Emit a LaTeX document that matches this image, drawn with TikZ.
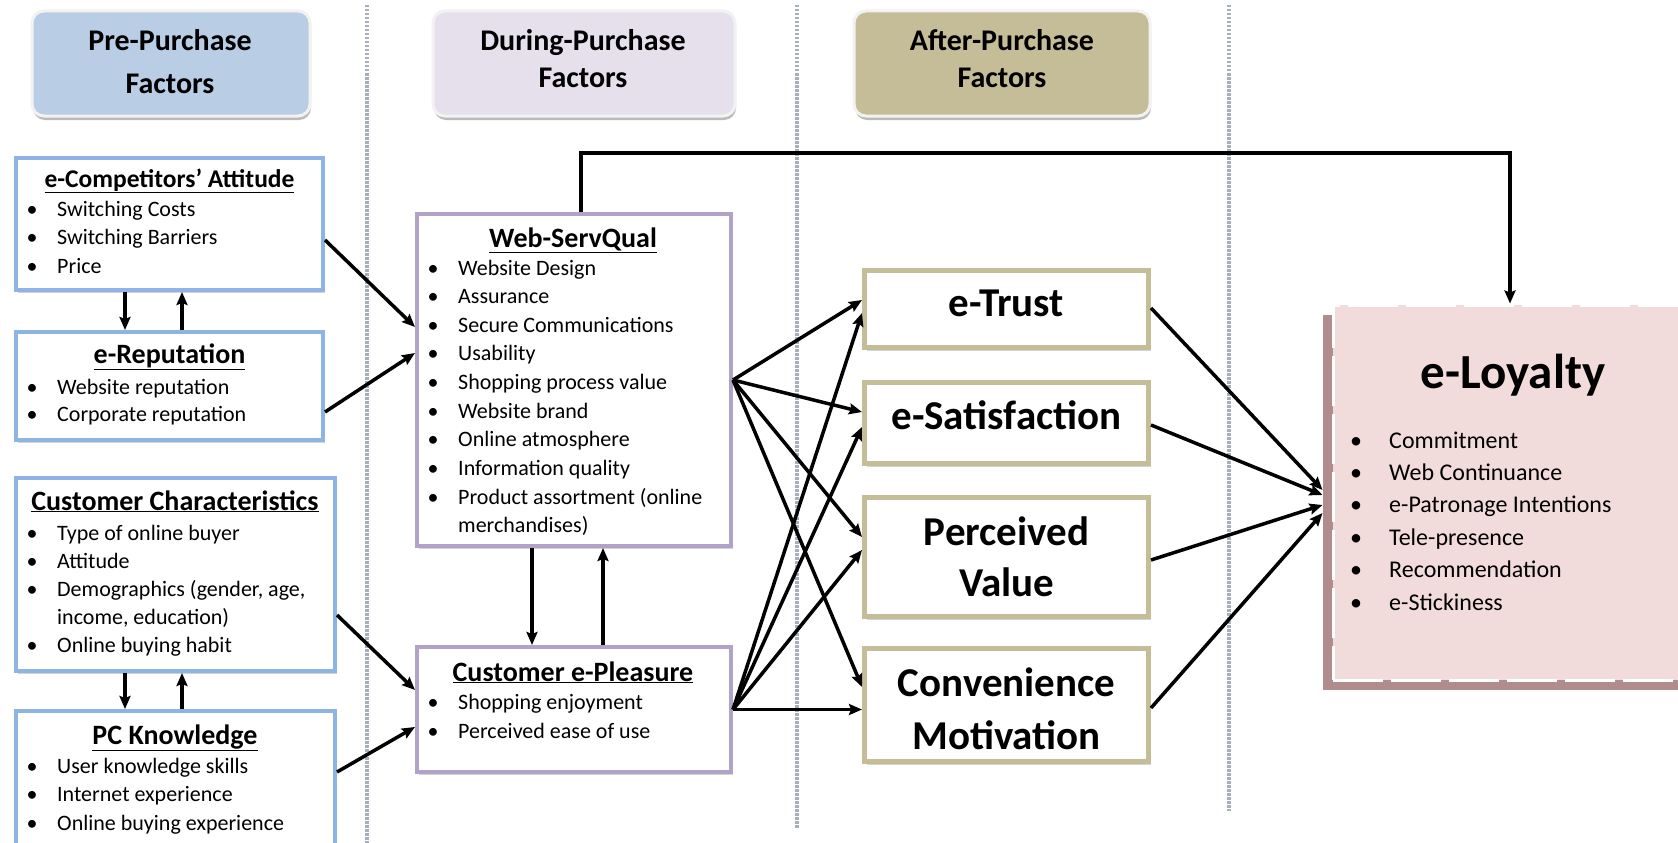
\documentclass[tikz,border=0pt]{standalone}
\usepackage{fontspec}
\setmainfont{Carlito}
\usetikzlibrary{shadows,arrows.meta}
\definecolor{preC}{HTML}{B9CDE5}
\definecolor{durC}{HTML}{E5E0EC}
\definecolor{aftC}{HTML}{C4BD97}
\definecolor{blueB}{HTML}{8EB4E3}
\definecolor{purB}{HTML}{B3A2C7}
\definecolor{tanB}{HTML}{C4BD97}
\definecolor{loyF}{HTML}{F2DCDB}
\definecolor{loyS}{HTML}{B08C8C}
\definecolor{dotC}{HTML}{A7AFBD}
\newcommand{\itemlist}[7]{%
  \foreach \isb/\itm [count=\k from 0] in {#6}{%
    \ifnum\isb=1\relax
      \node[anchor=base, inner sep=0pt, font=\fontsize{#7}{#7}\selectfont] (#1b\k) at (#2,{#4+\k*#5}) {\textbullet};%
    \fi
    \node[anchor=base west, inner sep=0pt, font=\fontsize{#7}{#7}\selectfont] (#1t\k) at (#3,{#4+\k*#5}) {\itm};%
  }}
\tikzset{
  hdr/.style={rounded corners=12pt, draw=black!5, line width=3pt, inner sep=0pt,
    drop shadow={shadow xshift=1pt, shadow yshift=-4pt, fill=black!45, opacity=0.6}},
  hdrtxt/.style={font=\bfseries\fontsize{30}{40}\selectfont, align=center, inner sep=0pt},
  lbox/.style={draw=blueB, line width=4pt, fill=white, inner sep=0pt,
    drop shadow={shadow xshift=2pt, shadow yshift=-3pt, fill=black!50, opacity=0.35}},
  pbox/.style={draw=purB, line width=4pt, fill=white, inner sep=0pt,
    drop shadow={shadow xshift=2pt, shadow yshift=-3pt, fill=black!50, opacity=0.35}},
  abox/.style={draw=tanB, line width=5pt, fill=white, inner sep=0pt, align=center,
    font=\bfseries\fontsize{41}{51.5}\selectfont,
    drop shadow={shadow xshift=2pt, shadow yshift=-3pt, fill=black!50, opacity=0.35}},
  ttl/.style={anchor=base, inner sep=0pt, font=\bfseries\fontsize{28}{30}\selectfont},
  conn/.style={line width=3.5pt, -{Stealth[length=13pt,width=11pt,inset=2pt]}},
  dotl/.style={dotC, line width=3.5pt, dash pattern=on 2.5pt off 1.5pt}
}
\begin{document}
\begin{tikzpicture}[x=1pt,y=-1pt]
\useasboundingbox (0,0) rectangle (1678,843);
% dotted separators
\draw[dotl] (367,5) -- (367,843);
\draw[dotl] (797,5) -- (797,829);
\draw[dotl] (1229,5) -- (1229,811);
% headers
\node[hdr, fill=preC, minimum width=278pt, minimum height=105pt] (pre) at (171,63.5) {};
\node[hdr, fill=durC, minimum width=302pt, minimum height=105pt] (dur) at (584,63.5) {};
\node[hdr, fill=aftC, minimum width=296pt, minimum height=105pt] (aft) at (1002,63.5) {};
\node[hdrtxt, font=\bfseries\fontsize{30}{43}\selectfont] (pretxt) at (170,62) {Pre-Purchase\\Factors};
\node[hdrtxt, font=\bfseries\fontsize{30}{37}\selectfont] (durtxt) at (583,59) {During-Purchase\\Factors};
\node[hdrtxt, font=\bfseries\fontsize{30}{37}\selectfont] (afttxt) at (1002,59) {After-Purchase\\Factors};
% left boxes
\node[lbox, minimum width=307pt, minimum height=132pt] (ecomp) at (169.5,224) {};
\node[lbox, minimum width=307pt, minimum height=108pt] (erep) at (169.5,386) {};
\node[lbox, minimum width=319pt, minimum height=193pt] (cc) at (175.5,574.5) {};
\node[lbox, minimum width=319pt, minimum height=159pt] (pck) at (175.5,790.5) {};
\node[ttl, font=\bfseries\fontsize{25.5}{30}\selectfont] (ecompT) at (169.5,187) {\underline{e-Competitors’ Attitude}};
\itemlist{ec}{32}{57}{216}{28.5}{1/Switching Costs, 1/Switching Barriers, 1/Price}{22}
\node[ttl] (erepT) at (169.5,363) {\underline{e-Reputation}};
\itemlist{er}{32}{57}{394}{27.5}{1/Website reputation, 1/Corporate reputation}{22}
\node[ttl] (ccT) at (175,510) {\underline{Customer Characteristics}};
\itemlist{cc}{32}{57}{540}{28}{1/Type of online buyer, 1/Attitude, 1/{Demographics (gender, age,}, 0/{income, education)}, 1/Online buying habit}{22}
\node[ttl] (pckT) at (175,744) {\underline{PC Knowledge}};
\itemlist{pk}{32}{57}{773}{28.5}{1/User knowledge skills, 1/Internet experience, 1/Online buying experience}{22}
% middle boxes
\node[pbox, minimum width=314pt, minimum height=332pt] (wsq) at (574,380) {};
\node[pbox, minimum width=314pt, minimum height=125pt] (epl) at (574,709.5) {};
\node[ttl] (wsqT) at (573,247) {\underline{Web-ServQual}};
\itemlist{ws}{433}{458}{275}{28.65}{1/Website Design, 1/Assurance, 1/Secure Communications, 1/Usability, 1/Shopping process value, 1/Website brand, 1/Online atmosphere, 1/Information quality, 1/Product assortment (online, 0/merchandises)}{22}
\node[ttl] (eplT) at (573,681) {\underline{Customer e-Pleasure}};
\itemlist{ep}{433}{458}{709}{29}{1/Shopping enjoyment, 1/Perceived ease of use}{22}
% after boxes
\node[abox, minimum width=284pt, minimum height=77pt] (etrust) at (1006.5,309) {\raisebox{12pt}{e-Trust}};
\node[abox, minimum width=284pt, minimum height=81pt] (esat) at (1006.5,423) {\raisebox{16pt}{e-Satisfaction}};
\node[abox, minimum width=284pt, minimum height=119pt] (pval) at (1006.5,557) {Perceived\\Value};
\node[abox, minimum width=284pt, minimum height=113pt, font=\bfseries\fontsize{41}{53}\selectfont] (conv) at (1006.5,705) {\rule{0pt}{37pt}Convenience\\Motivation};
% e-Loyalty
\node[draw=white, line width=3pt, dash pattern=on 50pt off 8pt, fill=loyF, inner sep=0pt,
  minimum width=367pt, minimum height=375pt,
  drop shadow={shadow xshift=-10pt, shadow yshift=-10pt, fill=loyS, opacity=1}] (eloy) at (1516.5,492.5) {};
\node[anchor=base, inner sep=0pt, font=\bfseries\fontsize{49}{50}\selectfont] (eloyT) at (1513,388) {e-Loyalty};
\itemlist{el}{1356}{1389}{448}{32.4}{1/Commitment, 1/Web Continuance, 1/e-Patronage Intentions, 1/Tele-presence, 1/Recommendation, 1/e-Stickiness}{24}
% vertical arrows
\draw[conn] ([xshift=-44.5pt]ecomp.south) -- ([xshift=-44.5pt]erep.north);
\draw[conn] ([xshift=12.5pt]erep.north) -- ([xshift=12.5pt]ecomp.south);
\draw[conn] ([xshift=-50.5pt]cc.south) -- ([xshift=-50.5pt]pck.north);
\draw[conn] ([xshift=6.5pt]pck.north) -- ([xshift=6.5pt]cc.south);
\draw[conn] ([xshift=-42pt]wsq.south) -- ([xshift=-42pt]epl.north);
\draw[conn] ([xshift=29pt]epl.north) -- ([xshift=29pt]wsq.south);
% left to middle
\draw[conn] ([yshift=-16pt]ecomp.east) -- ([yshift=53pt]wsq.west);
\draw[conn] ([yshift=-26pt]erep.east) -- ([yshift=27pt]wsq.west);
\draw[conn] ([yshift=-40.5pt]cc.east) -- ([yshift=19.5pt]epl.west);
\draw[conn] ([yshift=18.5pt]pck.east) -- ([yshift=-17.5pt]epl.west);
% fans
\draw[conn] (wsq.east) -- ([yshift=9pt]etrust.west);
\draw[conn] (wsq.east) -- ([yshift=11pt]esat.west);
\draw[conn] (wsq.east) -- ([yshift=20pt]pval.west);
\draw[conn] (wsq.east) -- ([yshift=18pt]conv.west);
\draw[conn] (epl.east) -- ([yshift=-4pt]etrust.west);
\draw[conn] (epl.east) -- ([yshift=-4pt]esat.west);
\draw[conn] (epl.east) -- ([yshift=7pt]pval.west);
\draw[conn] (epl.east) -- (epl.east -| conv.west);
% to e-Loyalty
\draw[conn] ([yshift=1pt]etrust.east) -- ([xshift=-9pt,yshift=2.5pt]eloy.west);
\draw[conn] ([yshift=-2pt]esat.east) -- ([xshift=-9pt,yshift=-2.5pt]eloy.west);
\draw[conn] ([yshift=-3pt]pval.east) -- ([xshift=-9pt,yshift=-12.5pt]eloy.west);
\draw[conn] ([yshift=-3pt]conv.east) -- ([xshift=-9pt,yshift=-20.5pt]eloy.west);
% top connector
\coordinate (tl) at (581,153);
\coordinate (tr) at (1510,153);
\draw[conn, line width=4pt] ([xshift=7pt]wsq.north) -- (tl) -- (tr) -- ([xshift=-6.5pt]eloy.north);
\end{tikzpicture}
\end{document}
